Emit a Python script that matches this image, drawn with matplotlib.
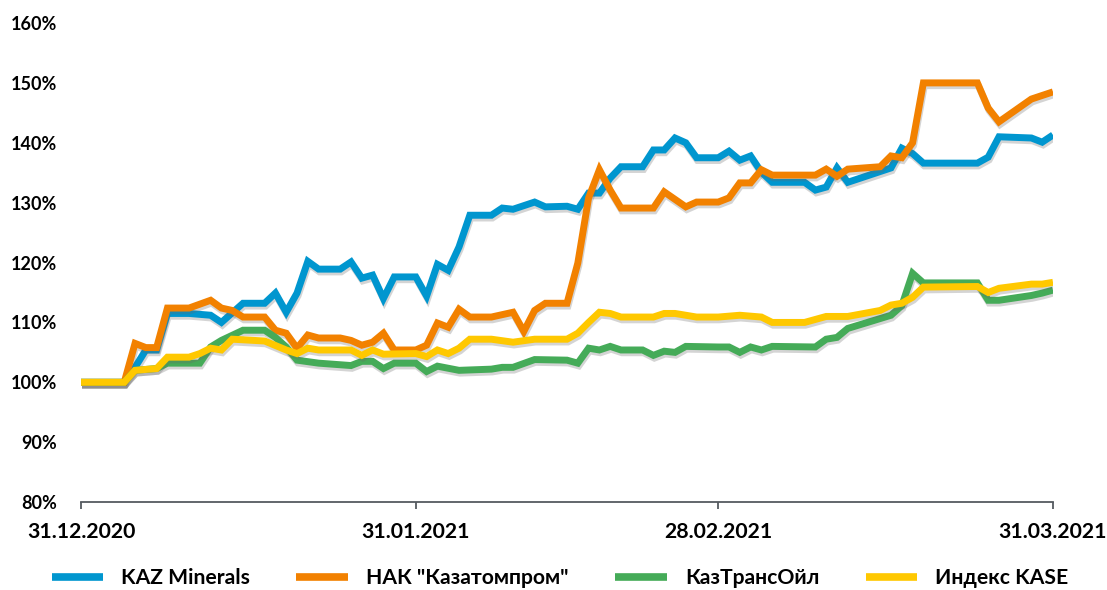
import numpy as np
import matplotlib
matplotlib.use("Agg")
import matplotlib.pyplot as plt
import matplotlib.dates as mdates
import matplotlib.patheffects as pe

plt.rcParams['font.family'] = ['Lato', 'DejaVu Sans']
plt.rcParams['font.weight'] = 'bold'

# days counted from 31.12.2020, values in % of the starting level
start_date = np.datetime64('2020-12-31')

kaz_days = [0, 4, 5, 6, 7, 8, 10, 12, 13, 15, 17, 18, 19, 20, 21, 22, 24, 25, 26, 27, 28, 29,
            31, 32, 33, 34, 35, 36, 38, 39, 40, 42, 43, 45, 46, 47, 48, 49, 50, 52, 53, 54,
            55, 56, 57, 59, 60, 61, 62, 63, 64, 67, 68, 69, 70, 71, 75, 76, 77, 78, 83, 84,
            85, 88, 89, 90]
kaz_vals = [100, 100, 102.5, 105.4, 105.4, 111.5, 111.5, 111.2, 110, 113.2, 113.2, 114.9,
            111.7, 114.9, 120.2, 118.9, 118.9, 120.1, 117.4, 117.9, 114, 117.6, 117.6, 114.4,
            119.7, 118.7, 122.6, 127.9, 127.9, 129.1, 128.9, 130.1, 129.3, 129.4, 128.9,
            131.6, 131.6, 134.1, 136, 136, 138.8, 138.8, 140.8, 140, 137.5, 137.5, 138.6,
            137.1, 137.8, 135.1, 133.4, 133.4, 132.1, 132.6, 135.8, 133.4, 135.8, 139.1,
            138.2, 136.6, 136.6, 137.6, 141, 140.8, 140.1, 141.3]

kap_days = [0, 4, 5, 6, 7, 8, 10, 12, 13, 14, 15, 17, 18, 19, 20, 21, 22, 24, 25, 26, 27, 28,
            29, 31, 32, 33, 34, 35, 36, 38, 40, 41, 42, 43, 45, 46, 47, 48, 49, 50, 53, 54,
            56, 57, 59, 60, 61, 62, 63, 64, 68, 69, 70, 71, 74, 75, 76, 77, 78, 83, 84, 85,
            88, 90]
kap_vals = [100, 100, 106.5, 105.8, 105.8, 112.4, 112.4, 113.7, 112.4, 112, 110.9, 110.9,
            108.7, 108.2, 105.7, 107.9, 107.4, 107.4, 107, 106.2, 106.7, 108.2, 105.4, 105.4,
            106.2, 109.9, 109.2, 112.2, 110.9, 110.9, 111.7, 108.5, 112, 113.2, 113.2, 119.9,
            130.8, 135.5, 132.1, 129.1, 129.1, 131.8, 129.3, 130.1, 130.1, 130.8, 133.3,
            133.3, 135.5, 134.6, 134.6, 135.6, 134.4, 135.6, 136, 137.8, 137.5, 140, 150,
            150, 145.8, 143.5, 147.3, 148.5]

kto_days = [0, 4, 5, 7, 8, 11, 12, 13, 15, 17, 18, 19, 20, 22, 25, 26, 27, 28, 29, 31, 32,
            33, 35, 38, 39, 40, 42, 45, 46, 47, 48, 49, 50, 52, 53, 54, 55, 56, 59, 60, 61,
            62, 63, 64, 68, 69, 70, 71, 75, 76, 77, 78, 83, 84, 85, 88, 89, 90]
kto_vals = [100, 100, 102, 102.3, 103.2, 103.2, 105.9, 107, 108.7, 108.7, 107.5, 105.9,
            103.7, 103.2, 102.8, 103.5, 103.5, 102.3, 103.2, 103.2, 101.8, 102.7, 102, 102.2,
            102.5, 102.5, 103.8, 103.7, 103.2, 105.7, 105.4, 106, 105.4, 105.4, 104.5, 105.2,
            105, 106, 105.9, 105.9, 105, 105.9, 105.4, 106, 105.9, 107.2, 107.5, 109, 111.2,
            112.8, 118.2, 116.6, 116.6, 113.7, 113.7, 114.5, 114.9, 115.4]

kase_days = [0, 4, 5, 7, 8, 10, 11, 12, 13, 14, 17, 19, 20, 21, 22, 25, 26, 27, 28, 31, 32,
             33, 34, 35, 36, 38, 40, 42, 45, 46, 47, 48, 49, 50, 53, 54, 55, 57, 59, 61, 63,
             64, 67, 69, 71, 74, 75, 76, 77, 78, 83, 84, 85, 88, 89, 90]
kase_vals = [100, 100, 102, 102.3, 104.2, 104.2, 104.8, 105.7, 105.4, 107.2, 106.9, 105.4,
             104.8, 105.7, 105.4, 105.4, 104.5, 105.4, 104.7, 104.8, 104.3, 105.4, 104.8,
             105.7, 107.2, 107.2, 106.7, 107.2, 107.2, 108.2, 110, 111.7, 111.5, 110.9, 110.9,
             111.5, 111.5, 110.9, 110.9, 111.2, 110.9, 110, 110, 111, 111, 112, 112.9, 113.2,
             114.2, 115.9, 116, 115, 115.7, 116.4, 116.4, 116.7]

series_names = ['KAZ Minerals', 'НАК "Казатомпром"', 'КазТрансОйл', 'Индекс KASE']
series_colors = ['#0096cf', '#f28100', '#45ab58', '#ffc800']
tick_dates = ['2020-12-31', '2021-01-31', '2021-02-28', '2021-03-31']
y_ticks = [80, 90, 100, 110, 120, 130, 140, 150, 160]


def to_dates(days):
    return start_date + np.array(days).astype('timedelta64[D]')


fig = plt.figure(figsize=(11.07, 5.90), dpi=100)
ax = fig.add_axes([0.0732, 0.149, 0.878, 0.812])

all_days = [kaz_days, kap_days, kto_days, kase_days]
all_vals = [kaz_vals, kap_vals, kto_vals, kase_vals]
shadow = [pe.SimpleLineShadow(offset=(0.7, -2), shadow_color='#666666', alpha=0.28), pe.Normal()]

for days, vals, name, col in zip(all_days, all_vals, series_names, series_colors):
    ax.plot(to_dates(days), vals, color=col, lw=5, label=name,
            solid_joinstyle='miter', solid_capstyle='butt', path_effects=shadow)

ax.set_xlim(to_dates([0])[0], to_dates([90])[0])
ax.set_ylim(80, 160)
ax.set_xticks(np.array(tick_dates, dtype='datetime64[D]'))
ax.xaxis.set_major_formatter(mdates.DateFormatter('%d.%m.%Y'))
ax.set_yticks(y_ticks)
ax.set_yticklabels([f'{v}%' for v in y_ticks])

for s in ['top', 'right', 'left']:
    ax.spines[s].set_visible(False)
ax.spines['bottom'].set_color('#555a60')
ax.spines['bottom'].set_linewidth(1.3)
ax.tick_params(axis='x', length=5, width=1.3, color='#555a60', pad=9, labelsize=15.3)
ax.tick_params(axis='y', length=0, pad=17, labelsize=13)
for lbl in ax.get_xticklabels() + ax.get_yticklabels():
    lbl.set_fontweight('bold')

leg = fig.legend(loc='center', bbox_to_anchor=(560 / 1107, 1 - 578 / 590), ncol=4,
                 frameon=False, fontsize=15.2, handlelength=2.45, handletextpad=0.85,
                 columnspacing=2.2, borderpad=0)
for line in leg.get_lines():
    line.set_linewidth(5.5)
    line.set_solid_capstyle('butt')
    line.set_path_effects([])

fig.savefig('out.png', dpi=100, facecolor='white')
